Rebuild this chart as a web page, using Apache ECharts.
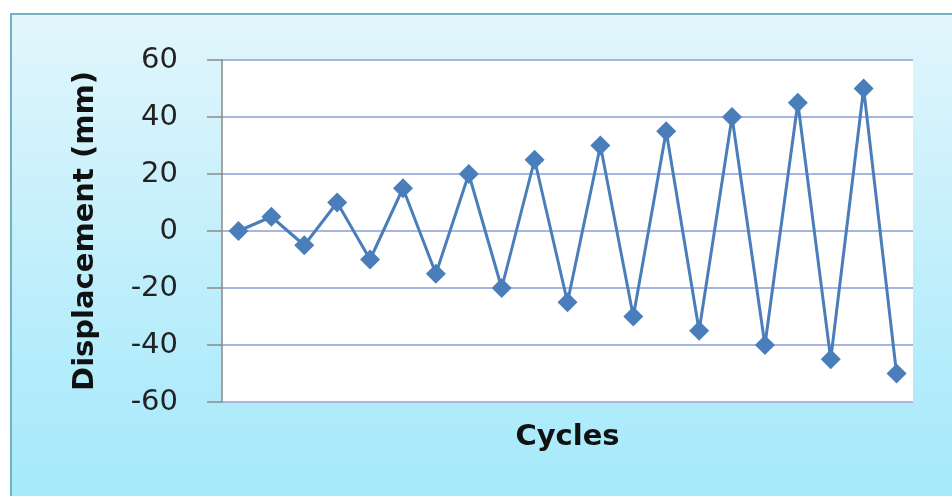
<!DOCTYPE html>
<html>
<head>
<meta charset="utf-8">
<script src="https://cdn.jsdelivr.net/npm/echarts@6/dist/echarts.min.js"></script>
<style>html,body{margin:0;padding:0;background:#fff;}#c{width:952px;height:496px;}</style>
</head>
<body>
<div id="c"></div>
<script>
const cycles = ['1','2','3','4','5','6','7','8','9','10','11','12','13','14','15','16','17','18','19','20','21'];
const displacement = [0,5,-5,10,-10,15,-15,20,-20,25,-25,30,-30,35,-35,40,-40,45,-45,50,-50];
const yTicks = {min:-60, max:60, interval:20};

const chart = echarts.init(document.getElementById('c'));
const font = '"DejaVu Sans", "Open Sans", sans-serif';
chart.setOption({
  backgroundColor: '#ffffff',
  graphic: [{
    type: 'rect', z: -10, silent: true,
    shape: {x: 11, y: 14, width: 960, height: 500},
    style: {
      fill: new echarts.graphic.LinearGradient(0,0,0,1,[
        {offset:0, color:'#e2f6fc'},
        {offset:0.55, color:'#bdeefb'},
        {offset:1, color:'#a3e9fb'}
      ]),
      stroke: '#6fb3c4', lineWidth: 2
    }
  }],
  grid: {left: 222, right: 39, top: 60, bottom: 94, show: true, backgroundColor: '#ffffff', borderWidth: 0},
  xAxis: {
    type: 'category', data: cycles, boundaryGap: true,
    name: 'Cycles', nameLocation: 'middle', nameGap: 21,
    nameTextStyle: {fontFamily: font, fontSize: 29, fontWeight: 'bold', color: '#111'},
    axisLine: {show: false}, axisTick: {show: false}, axisLabel: {show: false}, splitLine: {show: false}
  },
  yAxis: {
    type: 'value', min: yTicks.min, max: yTicks.max, interval: yTicks.interval,
    name: 'Displacement (mm)', nameLocation: 'middle', nameGap: 122,
    nameTextStyle: {fontFamily: font, fontSize: 29, fontWeight: 'bold', color: '#111'},
    axisLine: {show: true, lineStyle: {color: '#8a8a8a', width: 1.5}},
    axisTick: {show: true, inside: false, length: 15, lineStyle: {color: '#8a8a8a', width: 1.5}},
    axisLabel: {fontFamily: font, fontSize: 29, color: '#222', margin: 44},
    splitLine: {show: true, lineStyle: {color: '#a7b6e0', width: 2}}
  },
  series: [{
    type: 'line', data: displacement,
    symbol: 'diamond', symbolSize: 20,
    lineStyle: {color: '#4a7ebb', width: 3},
    itemStyle: {color: '#4a7ebb'},
    animation: false
  }],
  animation: false
});
</script>
</body>
</html>
